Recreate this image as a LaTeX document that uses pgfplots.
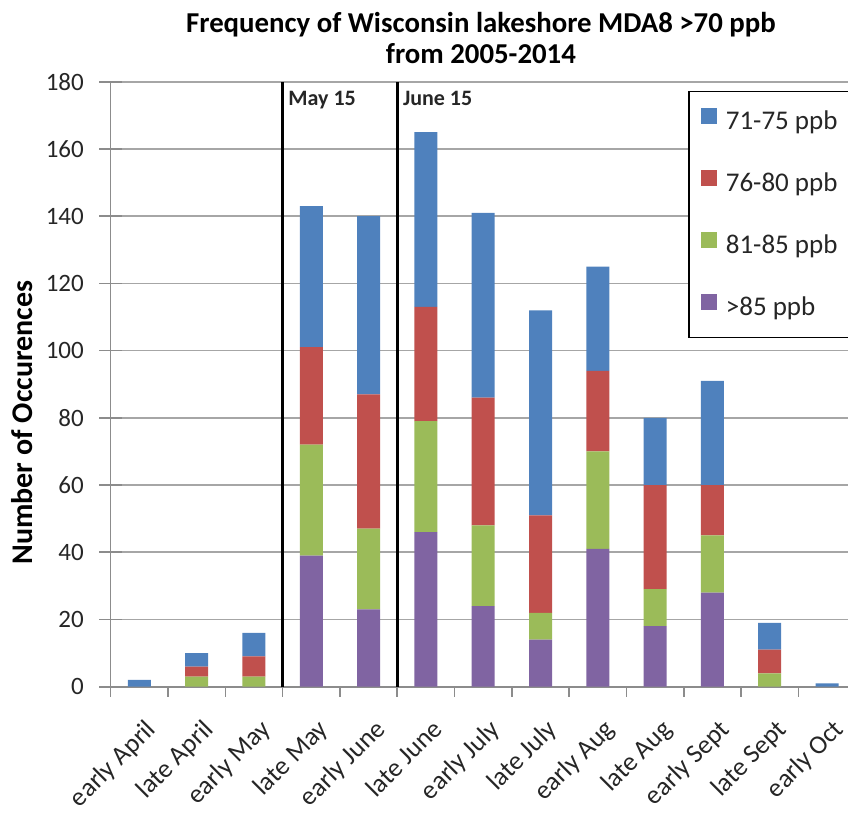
\documentclass[border=0pt]{standalone}
\usepackage{pgfplots}
\pgfplotsset{compat=1.18}
\usepackage{fontspec}
\setmainfont{Carlito}
\definecolor{cBlue}{HTML}{4F81BD}
\definecolor{cRed}{HTML}{C0504D}
\definecolor{cGreen}{HTML}{9BBB59}
\definecolor{cPurple}{HTML}{8064A2}
\definecolor{gridgray}{HTML}{A6A6A6}
\definecolor{axgray}{HTML}{8C8C8C}
\pgfplotsset{mylegend/.style={legend image code/.code={\fill[##1] (0pt,-0.5pt) rectangle (8pt,7.5pt);}}}
\begin{document}
\begin{tikzpicture}
\begin{axis}[
  scale only axis, width=372.5pt, height=302.5pt,
  ybar stacked, bar width=11.5pt,
  xmin=-0.5, xmax=12.5, ymin=0, ymax=180,
  clip=false,
  axis x line*=bottom, axis y line*=left,
  axis line style={axgray, line width=0.8pt},
  ytick={0,20,...,180},
  ymajorgrids, major grid style={gridgray, line width=0.8pt},
  tick align=center, major tick length=11.5pt,
  tick style={axgray, line width=0.8pt},
  xtick={0,...,12},
  xticklabels={early April, late April, early May, late May, early June, late June, early July, late July, early Aug, late Aug, early Sept, late Sept, early Oct},
  xtick style={draw=none},
  extra x ticks={-0.5,0.5,...,12.5},
  extra x tick labels={},
  extra x tick style={tick align=outside, major tick length=5pt, xtick style={draw=axgray}, grid=none},
  /pgf/number format/assume math mode=true,
  tick label style={font=\fontsize{12.5}{15}\selectfont, text=black!85},
  yticklabel style={anchor=east, inner sep=0pt, xshift=-7.5pt},
  xticklabel style={rotate=45, anchor=north east, inner sep=0pt, xshift=-5pt, yshift=-8.5pt, font=\fontsize{13.2}{15}\selectfont},
  ylabel={Number of Occurences},
  ylabel style={at={(rel axis cs:-0.1043,0.4367)}, anchor=base, font=\bfseries\fontsize{15}{18}\selectfont},
  reverse legend,
  legend style={at={(rel axis cs:0.775,0.985)}, anchor=north west, draw=black, line width=0.8pt,
    inner xsep=6pt, inner ysep=8pt, row sep=17pt, column sep=4.5pt,
    font=\fontsize{13.5}{16}\selectfont, text=black!85,
    nodes={inner sep=0pt, text height=10pt, text depth=3pt}},
  legend cell align=left,
]
\addplot[fill=cPurple, draw=none, mylegend] coordinates {(0,0)(1,0)(2,0)(3,39)(4,23)(5,46)(6,24)(7,14)(8,41)(9,18)(10,28)(11,0)(12,0)};
\addlegendentry{\makebox[66pt][l]{>85 ppb}}
\addplot[fill=cGreen, draw=none, mylegend] coordinates {(0,0)(1,3)(2,3)(3,33)(4,24)(5,33)(6,24)(7,8)(8,29)(9,11)(10,17)(11,4)(12,0)};
\addlegendentry{\makebox[66pt][l]{81-85 ppb}}
\addplot[fill=cRed, draw=none, mylegend] coordinates {(0,0)(1,3)(2,6)(3,29)(4,40)(5,34)(6,38)(7,29)(8,24)(9,31)(10,15)(11,7)(12,0)};
\addlegendentry{\makebox[66pt][l]{76-80 ppb}}
\addplot[fill=cBlue, draw=none, mylegend] coordinates {(0,2)(1,4)(2,7)(3,42)(4,53)(5,52)(6,55)(7,61)(8,31)(9,20)(10,31)(11,8)(12,1)};
\addlegendentry{\makebox[66pt][l]{71-75 ppb}}
\draw[black, line width=1.5pt] (axis cs:2.5,0) -- (axis cs:2.5,180);
\draw[black, line width=1.5pt] (axis cs:4.5,0) -- (axis cs:4.5,180);
\node[anchor=base west, inner sep=0pt, xshift=2.7pt, font=\bfseries\fontsize{11}{13}\selectfont, text=black!85] at (axis cs:2.5,172.9) {May 15};
\node[anchor=base west, inner sep=0pt, xshift=2.7pt, font=\bfseries\fontsize{11}{13}\selectfont, text=black!85] at (axis cs:4.5,172.9) {June 15};
\node[anchor=base, inner sep=0pt, font=\bfseries\fontsize{14.4}{17}\selectfont] at (rel axis cs:0.497,1.0805) {Frequency of Wisconsin lakeshore MDA8 >70 ppb};
\node[anchor=base, inner sep=0pt, font=\bfseries\fontsize{14.4}{17}\selectfont] at (rel axis cs:0.497,1.0309) {from 2005-2014};
\coordinate (sw) at (rel axis cs:0,0);
\end{axis}
\pgfresetboundingbox
\path[use as bounding box] ([xshift=-55.35pt,yshift=-64.15pt]sw) rectangle ([xshift=368.65pt,yshift=343.35pt]sw);
\end{tikzpicture}
\end{document}
